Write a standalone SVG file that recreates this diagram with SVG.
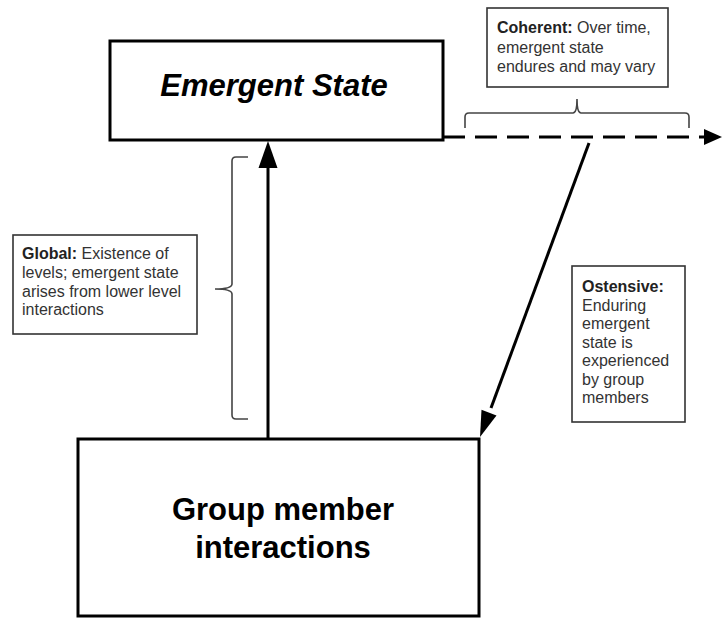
<svg xmlns="http://www.w3.org/2000/svg" width="722" height="618" viewBox="0 0 722 618">
<style>
.big{fill:#fff;stroke:#000;stroke-width:3}
.small{fill:#fff;stroke:#333;stroke-width:1.6}
.bt{font-family:"Liberation Sans",Arial,sans-serif;font-weight:bold;font-size:31px;fill:#000;text-anchor:middle}
.st{font-family:"Liberation Sans",Arial,sans-serif;font-size:16px;fill:#333}
.st tspan.b{font-weight:bold;fill:#222}
.brace{fill:none;stroke:#444;stroke-width:1.6}
.conn{stroke:#000;stroke-width:3;fill:none}
.head{fill:#000;stroke:none}
</style>
<rect width="722" height="618" fill="#fff"/>
<g id="connectors">
<line class="conn" x1="268" y1="439" x2="268" y2="162"/>
<polygon class="head" points="268,141 258.5,168 277.5,168"/>
<line class="conn" x1="443" y1="137" x2="705" y2="137" stroke-dasharray="22 10"/>
<polygon class="head" points="704,129 722,137 704,145"/>
<line class="conn" x1="589" y1="143" x2="491" y2="408"/>
<polygon class="head" points="480,437 496.5,415.4 481.5,409.8"/>
</g>
<g id="emergent-state">
<rect class="big" x="110" y="41" width="333" height="99"/>
<text class="bt" x="274" y="96" font-style="italic">Emergent State</text>
</g>
<g id="group-member-interactions">
<rect class="big" x="78" y="439" width="401" height="177"/>
<text class="bt" x="283" y="520">Group member</text>
<text class="bt" x="283" y="558">interactions</text>
</g>
<g id="coherent">
<rect class="small" x="487" y="8" width="181" height="79"/>
<text class="st" x="497" y="33"><tspan class="b">Coherent:</tspan> Over time,</text>
<text class="st" x="497" y="52.5">emergent state</text>
<text class="st" x="497" y="72">endures and may vary</text>
<path class="brace" d="M465,128 L465,117 Q465,113 469,113 L573,113 Q577,113 577,99 Q577,113 581,113 L685,113 Q689,113 689,117 L689,128"/>
</g>
<g id="global">
<rect class="small" x="13" y="235" width="184" height="99"/>
<text class="st" x="22" y="259"><tspan class="b">Global:</tspan> Existence of</text>
<text class="st" x="22" y="278">levels; emergent state</text>
<text class="st" x="22" y="297">arises from lower level</text>
<text class="st" x="22" y="315">interactions</text>
<path class="brace" d="M248,157 L236,157 Q232,157 232,161 L232,284 Q232,289 215,289 Q232,289 232,294 L232,415 Q232,419 236,419 L248,419"/>
</g>
<g id="ostensive">
<rect class="small" x="572" y="266" width="113" height="156"/>
<text class="st" x="582" y="292"><tspan class="b">Ostensive:</tspan></text>
<text class="st" x="582" y="310.5">Enduring</text>
<text class="st" x="582" y="329">emergent</text>
<text class="st" x="582" y="347.5">state is</text>
<text class="st" x="582" y="366">experienced</text>
<text class="st" x="582" y="384.5">by group</text>
<text class="st" x="582" y="403">members</text>
</g>
</svg>
